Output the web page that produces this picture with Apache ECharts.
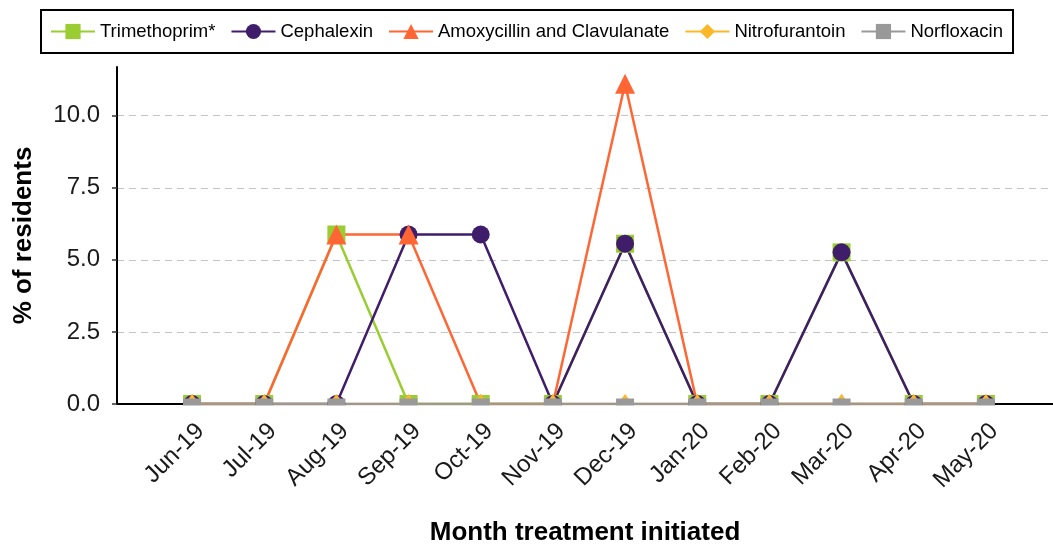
<!DOCTYPE html>
<html>
<head>
<meta charset="utf-8">
<script src="https://cdn.jsdelivr.net/npm/echarts@6/dist/echarts.min.js"></script>
<style>
html,body{margin:0;padding:0;background:#fff;}
#chart{width:1053px;height:545px;}
</style>
</head>
<body>
<div id="chart"></div>
<script>
const categories = ['Jun-19','Jul-19','Aug-19','Sep-19','Oct-19','Nov-19','Dec-19','Jan-20','Feb-20','Mar-20','Apr-20','May-20'];
const trimethoprim = [0, 0, 5.88, 0, 0, 0, 5.56, 0, 0, 5.26, 0, 0];
const cephalexin   = [0, 0, 0, 5.88, 5.88, 0, 5.56, 0, 0, 5.26, 0, 0];
const amoxClav     = [0, 0, 5.88, 5.88, 0, 0, 11.11, 0, 0, 0, 0, 0];
const nitrofurantoin = [0, 0, 0, 0, 0, 0, 0, 0, 0, 0, 0, 0];
const norfloxacin  = [0, 0, 0, 0, 0, 0, 0, 0, 0, 0, 0, 0];
const yTicks = [0, 2.5, 5, 7.5, 10];
const seriesNames = ['Trimethoprim*', 'Cephalexin', 'Amoxycillin and Clavulanate', 'Nitrofurantoin', 'Norfloxacin'];

const FONT = "'Liberation Sans', Arial, Helvetica, sans-serif";
const pts = arr => arr.map((v, i) => [i, v]);

const chart = echarts.init(document.getElementById('chart'), null, {renderer: 'canvas'});

function mkSeries(name, data, color, symbol, size) {
  return {
    name: name,
    type: 'line',
    data: pts(data),
    symbol: symbol,
    symbolSize: size,
    showAllSymbol: true,
    clip: false,
    lineStyle: {color: color, width: 2.5},
    itemStyle: {color: color, borderWidth: 0, opacity: 1},
    emphasis: {disabled: true},
    animation: false
  };
}

const option = {
  backgroundColor: '#fff',
  animation: false,
  textStyle: {fontFamily: FONT},
  legend: {
    left: 41, top: 10,
    padding: [12, 10, 12, 9],
    borderColor: '#000', borderWidth: 2,
    itemWidth: 44, itemHeight: 19, itemGap: 15,
    textStyle: {fontSize: 18.5, color: '#000', fontFamily: FONT},
    data: seriesNames
  },
  grid: {left: 117, right: 0, top: 67, bottom: 141, containLabel: false, outerBoundsMode: 'none'},
  xAxis: {
    type: 'value',
    min: -1.04, max: 11.93,
    name: 'Month treatment initiated',
    nameLocation: 'middle',
    nameGap: 116,
    nameMoveOverlap: false,
    nameTextStyle: {fontSize: 26, fontWeight: 'bold', color: '#000', fontFamily: FONT},
    axisLine: {show: true, onZero: false, lineStyle: {color: '#000', width: 2}},
    axisTick: {show: false},
    splitLine: {show: false},
    axisLabel: {
      customValues: categories.map((c, i) => i),
      formatter: v => categories[Math.round(v)] || '',
      rotate: 45, fontSize: 24, color: '#1a1a1a', margin: 15,
      verticalAlign: 'top', fontFamily: FONT
    }
  },
  yAxis: {
    type: 'value',
    min: 0, max: 11.69, interval: 2.5,
    name: '% of residents',
    nameLocation: 'middle',
    nameGap: 80,
    nameTextStyle: {fontSize: 26, fontWeight: 'bold', color: '#000', fontFamily: FONT},
    axisLine: {show: true, onZero: false, lineStyle: {color: '#000', width: 2}},
    axisTick: {show: true, length: 5, customValues: yTicks, lineStyle: {color: '#333', width: 1.5}},
    axisLabel: {
      customValues: yTicks,
      formatter: v => v.toFixed(1),
      fontSize: 24, color: '#1a1a1a', margin: 17, fontFamily: FONT
    },
    splitLine: {show: true, lineStyle: {color: '#c4c4c4', width: 1.2, type: [7, 5]}}
  },
  graphic: [{
    type: 'rect', z: 100, silent: true,
    shape: {x: 119, y: 405.5, width: 934, height: 11},
    style: {fill: '#fff'}
  }],
  series: [
    mkSeries(seriesNames[0], trimethoprim, '#9ACD32', 'rect', 18),
    mkSeries(seriesNames[1], cephalexin, '#3F1D6B', 'circle', 18),
    mkSeries(seriesNames[2], amoxClav, '#FF6633', 'triangle', 20),
    mkSeries(seriesNames[3], nitrofurantoin, '#FBB829', 'diamond', [15, 20]),
    mkSeries(seriesNames[4], norfloxacin, '#999999', 'rect', [18, 11])
  ]
};
chart.setOption(option);
</script>
</body>
</html>
